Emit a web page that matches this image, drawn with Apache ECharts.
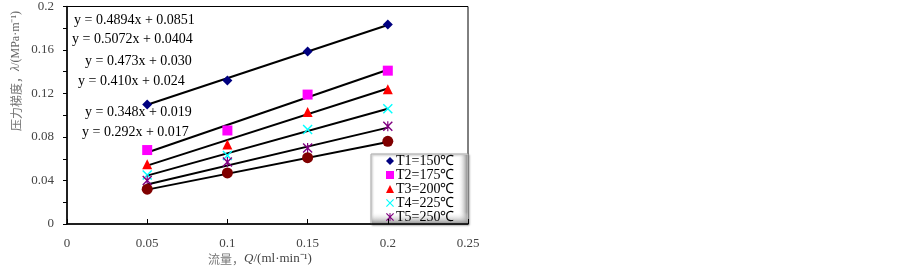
<!DOCTYPE html>
<html><head><meta charset="utf-8">
<script src="https://cdn.jsdelivr.net/npm/echarts@6/dist/echarts.min.js"></script>
<style>html,body{margin:0;padding:0;background:#fff}#c{width:903px;height:268px}</style>
</head><body><div id="c"></div>
<script>
const flow = [0.05, 0.1, 0.15, 0.2];
const seriesNames = ['T1=150℃','T2=175℃','T3=200℃','T4=225℃','T5=250℃','T6'];
const t1 = [0.110, 0.132, 0.1587, 0.1835];
const t2 = [0.068, 0.086, 0.119, 0.141];
const t3 = [0.055, 0.073, 0.103, 0.124];
const t4 = [0.045, 0.063, 0.087, 0.106];
const t5 = [0.040, 0.057, 0.070, 0.090];
const t6 = [0.032, 0.047, 0.061, 0.076];
const trendX = [0.05, 0.2];
const trendStart = [0.1096, 0.0658, 0.0537, 0.0445, 0.0364, 0.0316];
const trendEnd = [0.1830, 0.1418, 0.1246, 0.1060, 0.0886, 0.0754];
const equations = ['y = 0.4894x + 0.0851','y = 0.5072x + 0.0404','y = 0.473x + 0.030','y = 0.410x + 0.024','y = 0.348x + 0.019','y = 0.292x + 0.017'];
const xTicks = [0, 0.05, 0.1, 0.15, 0.2, 0.25];
const yTicks = [0, 0.04, 0.08, 0.12, 0.16, 0.2];

const allData = [t1,t2,t3,t4,t5,t6];
const colors = ['#000080','#FF00FF','#FF0000','#00FFFF','#800080','#800000'];
const xPath = 'path://M0,1L1,0L5,4L9,0L10,1L6,5L10,9L9,10L5,6L1,10L0,9L4,5Z';
const starPath = 'path://M0,1L1,0L5,4L9,0L10,1L6,5L10,9L9,10L5,6L1,10L0,9L4,5Z M4.4,0L5.6,0L5.6,10L4.4,10Z';
const symbols = ['diamond','rect','triangle',xPath,starPath,'circle'];
const sizes = [10,10,10,10,10,11];
const serif = '"Liberation Serif","Times New Roman",serif';
const cjk = '"Noto Sans CJK SC",sans-serif';

const series = [];
for (let i = 0; i < 6; i++) {
  series.push({
    name: seriesNames[i]+'_trend', type:'line', silent:true, symbol:'none',
    data: trendX.map((x,k)=>[x, k===0?trendStart[i]:trendEnd[i]]),
    lineStyle:{color:'#000', width:2}, z:2
  });
}
for (let i = 0; i < 6; i++) {
  series.push({
    name: seriesNames[i], type:'scatter', symbol: symbols[i], symbolSize: sizes[i],
    data: flow.map((x,k)=>[x, allData[i][k]]),
    itemStyle:{color: colors[i], opacity:1}, z:3
  });
}

const eqPos = [[74,21],[72,40],[85,62],[78,82],[85,113],[82,133]];
const graphics = equations.map((t,i)=>({
  type:'text', left: eqPos[i][0], top: eqPos[i][1]-8, z:10,
  style:{text:t, font:'14px '+serif, fill:'#000'}
}));
graphics.push({
  type:'text', x:16, y:71, rotation: Math.PI/2, z:10,
  style:{text:'{c|压力梯度，}{i|λ}{s|/(MPa·m⁻¹)}', align:'center', verticalAlign:'middle',
    rich:{c:{fontFamily:cjk, fontSize:12, fill:'#777'}, i:{fontFamily:serif, fontStyle:'italic', fontSize:12, fill:'#666'}, s:{fontFamily:serif, fontSize:12, fill:'#666'}}}
});
graphics.push({
  type:'text', x:260, y:259, z:10,
  style:{text:'{c|流量，}{i|Q}{s|/(ml·min⁻¹)}', align:'center', verticalAlign:'middle',
    rich:{c:{fontFamily:cjk, fontSize:12, fill:'#777'}, i:{fontFamily:serif, fontStyle:'italic', fontSize:13, fill:'#444'}, s:{fontFamily:serif, fontSize:13, fill:'#444'}}}
});
// legend box
graphics.push({type:'rect', z:15, shape:{x:371, y:154, width:97, height:70},
  style:{fill:'#fff', stroke:'#aaa', lineWidth:1, shadowColor:'rgba(0,0,0,0.35)', shadowBlur:2, shadowOffsetX:1, shadowOffsetY:1}});
graphics.push({type:'rect', z:16, shape:{x:458, y:155, width:9.5, height:69},
  style:{fill:{type:'linear', x:0, y:0, x2:1, y2:0, colorStops:[{offset:0,color:'rgba(255,255,255,0)'},{offset:1,color:'#8a8a8a'}]}}});
graphics.push({type:'rect', z:16, shape:{x:372, y:212, width:96, height:12},
  style:{fill:{type:'linear', x:0, y:0, x2:0, y2:1, colorStops:[{offset:0,color:'rgba(255,255,255,0)'},{offset:1,color:'#8a8a8a'}]}}});

const chart = echarts.init(document.getElementById('c'));
chart.setOption({
  animation:false,
  grid:{left:67, right:435, top:6, bottom:44, show:true, borderColor:'#000', borderWidth:1, backgroundColor:'transparent'},
  xAxis:{type:'value', min:xTicks[0], max:xTicks[xTicks.length-1], interval:0.05, z:30,
    axisLine:{lineStyle:{color:'#000', width:1.5}}, axisTick:{inside:true, length:5, lineStyle:{color:'#000'}},
    axisLabel:{margin:13, color:'#444', fontFamily:serif, fontSize:13, formatter:v=>String(+v.toFixed(2))},
    splitLine:{show:false}},
  yAxis:{type:'value', min:yTicks[0], max:yTicks[yTicks.length-1], interval:0.04,
    axisLine:{show:true, lineStyle:{color:'#000', width:1.5}}, axisTick:{show:true, inside:false, length:4, lineStyle:{color:'#000'}},
    minorTick:{show:true, splitNumber:2, length:4, lineStyle:{color:'#000'}},
    axisLabel:{margin:13, color:'#444', fontFamily:serif, fontSize:13, formatter:v=>String(+v.toFixed(2))},
    splitLine:{show:false}},
  legend:{orient:'vertical', left:386, top:154, data: seriesNames.slice(0,5), itemWidth:8, itemHeight:8, itemGap:0,
    padding:0, z:20,
    textStyle:{fontFamily:serif, fontSize:14, lineHeight:14, color:'#000', padding:[0,0,0,-3]}},
  graphic: graphics,
  series: series
});
</script></body></html>
